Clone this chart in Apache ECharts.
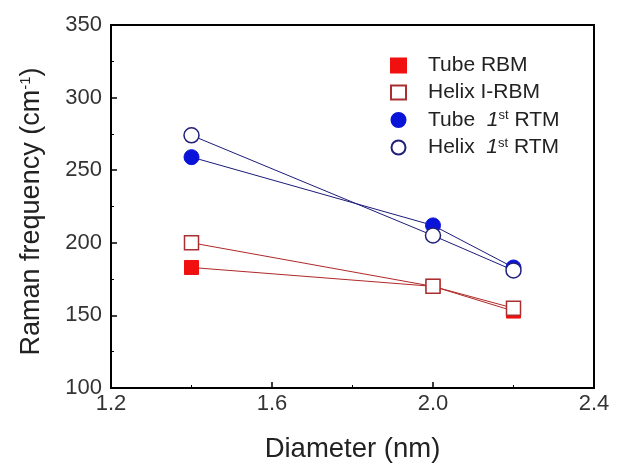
<!DOCTYPE html>
<html><head><meta charset="utf-8">
<script src="https://cdn.jsdelivr.net/npm/echarts@6/dist/echarts.min.js"></script>
<style>html,body{margin:0;padding:0;background:#fff}#c{width:618px;height:465px}</style>
</head><body><div id="c"></div>
<script>
var diameters = [1.4, 2.0, 2.2];
var tubeRBM = [183, 170, 153];
var helixRBM = [200, 170, 155];
var tubeRTM = [259, 212, 183];
var helixRTM = [274, 205, 181];
var seriesNames = ['Tube RBM', 'Helix I-RBM', 'Tube 1st RTM', 'Helix 1st RTM'];

function pts(vals){ return diameters.map(function(d,i){ return [d, vals[i]]; }); }
var F = 'Liberation Sans, Arial, sans-serif';
var chart = echarts.init(document.getElementById('c'), null, {renderer:'canvas'});
chart.setOption({
  animation:false,
  backgroundColor:'#fff',
  grid:{left:111, right:24, top:25, bottom:77, containLabel:false, outerBoundsMode:'none', show:true, borderColor:'#000', borderWidth:2, backgroundColor:'transparent'},
  legend:{
    orient:'vertical', left:385, top:50, itemWidth:15, itemHeight:14, itemGap:6,
    data:[
      {name:seriesNames[0], icon:'rect'},
      {name:seriesNames[1], icon:'rect'},
      {name:seriesNames[2], icon:'circle'},
      {name:seriesNames[3], icon:'circle'}
    ],
    formatter:function(n){
      if(n.indexOf('1st')>=0){
        var p = n.split(' 1st ');
        return '{n|'+p[0]+'  }{i|1}{s|st}{n| '+p[1]+'}';
      }
      return '{n|'+n+'}';
    },
    textStyle:{fontFamily:F, fontSize:21, color:'#222', padding:[0,0,0,17],
      rich:{n:{fontFamily:F,fontSize:21,color:'#222'}, i:{fontFamily:F,fontSize:21,fontStyle:'italic',color:'#222'}, s:{fontFamily:F,fontSize:13,color:'#222',verticalAlign:'top',padding:[0,0,9,0]}}}
  },
  xAxis:{
    type:'value', min:1.2, max:2.4, interval:0.4,
    name:'Diameter (nm)', nameLocation:'middle', nameGap:47,
    nameTextStyle:{fontFamily:F, fontSize:27.5, color:'#222'},
    axisLine:{lineStyle:{color:'#000', width:2}},
    axisTick:{inside:true, length:6, lineStyle:{color:'#000', width:1.5}},
    minorTick:{show:true, splitNumber:2, length:3, lineStyle:{color:'#000', width:1}},
    axisLabel:{fontFamily:F, fontSize:22, color:'#333', margin:5, formatter:function(v){return v.toFixed(1);}},
    splitLine:{show:false}
  },
  yAxis:{
    type:'value', min:100, max:350, interval:50,
    name:'{n|Raman frequency (cm}{s|-1}{n|)}', nameLocation:'middle', nameGap:66,
    nameTextStyle:{fontFamily:F, fontSize:27, color:'#222', padding:[0,10,0,0], rich:{n:{fontFamily:F,fontSize:27,color:'#222'}, s:{fontFamily:F,fontSize:15,color:'#222',verticalAlign:'top',padding:[0,0,11,0]}}},
    axisLine:{lineStyle:{color:'#000', width:2}},
    axisTick:{inside:true, length:6, lineStyle:{color:'#000', width:1.5}},
    minorTick:{show:true, splitNumber:2, length:3, lineStyle:{color:'#000', width:1}},
    axisLabel:{fontFamily:F, fontSize:22, color:'#333', margin:9},
    splitLine:{show:false}
  },
  series:[
    {name:seriesNames[0], type:'line', data:pts(tubeRBM), symbol:'rect', symbolSize:14,
      itemStyle:{color:'#f01010', borderColor:'#f01010', borderWidth:1}, lineStyle:{color:'#b02828', width:1}, z:3},
    {name:seriesNames[1], type:'line', data:pts(helixRBM), symbol:'rect', symbolSize:14,
      itemStyle:{color:'#fff', borderColor:'#a83030', borderWidth:1.5}, lineStyle:{color:'#b02828', width:1}, z:4},
    {name:seriesNames[2], type:'line', data:pts(tubeRTM), symbol:'circle', symbolSize:15,
      itemStyle:{color:'#0a14d8', borderColor:'#0a14d8', borderWidth:1}, lineStyle:{color:'#1c1c78', width:1}, z:3},
    {name:seriesNames[3], type:'line', data:pts(helixRTM), symbol:'circle', symbolSize:15,
      itemStyle:{color:'#fff', borderColor:'#20207a', borderWidth:1.5}, lineStyle:{color:'#1c1c78', width:1}, z:4}
  ]
});
</script></body></html>
